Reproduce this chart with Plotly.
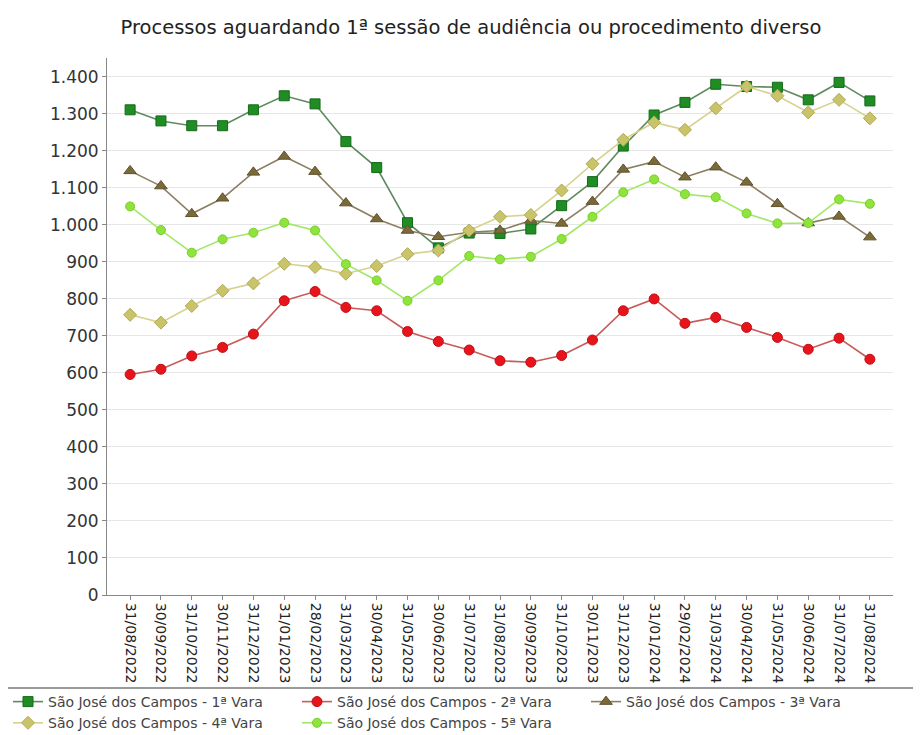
import plotly.graph_objects as go

categories = ["31/08/2022", "30/09/2022", "31/10/2022", "30/11/2022", "31/12/2022",
              "31/01/2023", "28/02/2023", "31/03/2023", "30/04/2023", "31/05/2023",
              "30/06/2023", "31/07/2023", "31/08/2023", "30/09/2023", "31/10/2023",
              "30/11/2023", "31/12/2023", "31/01/2024", "29/02/2024", "31/03/2024",
              "30/04/2024", "31/05/2024", "30/06/2024", "31/07/2024", "31/08/2024"]

vara1 = [1311, 1281, 1268, 1268, 1311, 1349, 1327, 1225, 1155, 1006, 938, 978, 977, 989,
         1052, 1117, 1213, 1297, 1331, 1380, 1374, 1372, 1338, 1385, 1335]
vara2 = [596, 610, 646, 669, 705, 795, 820, 777, 768, 712, 685, 662, 633, 629,
         647, 689, 768, 800, 734, 750, 723, 696, 664, 694, 637]
vara3 = [1146, 1105, 1030, 1072, 1142, 1185, 1144, 1059, 1016, 985, 968, 980, 985, 1012,
         1004, 1063, 1150, 1171, 1129, 1156, 1115, 1057, 1005, 1023, 967]
vara4 = [757, 736, 781, 822, 842, 895, 886, 868, 889, 921, 931, 985, 1022, 1027,
         1093, 1165, 1230, 1277, 1257, 1315, 1374, 1349, 1304, 1338, 1288]
vara5 = [1050, 986, 925, 961, 979, 1006, 985, 894, 850, 795, 850, 916, 907, 914,
         962, 1022, 1088, 1123, 1083, 1075, 1031, 1004, 1005, 1069, 1057]

series_names = ["São José dos Campos - 1ª Vara", "São José dos Campos - 2ª Vara",
                "São José dos Campos - 3ª Vara", "São José dos Campos - 4ª Vara",
                "São José dos Campos - 5ª Vara"]

y_tickvals = [0, 100, 200, 300, 400, 500, 600, 700, 800, 900, 1000, 1100, 1200, 1300, 1400]
y_ticktext = ["0", "100", "200", "300", "400", "500", "600", "700", "800", "900",
              "1.000", "1.100", "1.200", "1.300", "1.400"]

title_text = "Processos aguardando 1ª sessão de audiência ou procedimento diverso"

styles = [
    dict(symbol="square", size=10, color="#1f8c24", mline="#146a18", lcolor="#5f8a5f"),
    dict(symbol="circle", size=10, color="#e8141b", mline="#c01015", lcolor="#c85a5a"),
    dict(symbol="triangle-up", size=11, color="#7a6a3a", mline="#5f522c", lcolor="#8c7e60"),
    dict(symbol="diamond", size=10, color="#c9c46a", mline="#b0aa55", lcolor="#d6d28e"),
    dict(symbol="circle", size=9, color="#8fe43c", mline="#78cc2c", lcolor="#a2e866"),
]

W, H = 913, 727  # page body has an 8px margin
ML, MR, MT, MB = 99, 28, 50, 140

fig = go.Figure()
for name, vals, st in zip(series_names, [vara1, vara2, vara3, vara4, vara5], styles):
    fig.add_trace(go.Scatter(
        x=categories, y=vals, name=name, mode="lines+markers",
        line=dict(color=st["lcolor"], width=1.6),
        marker=dict(symbol=st["symbol"], size=st["size"], color=st["color"],
                    line=dict(color=st["mline"], width=1)),
    ))

plot_w = W - ML - MR
plot_h = H - MT - MB
line_y = (587 - 680) / plot_h

fig.update_layout(
    width=W, height=H,
    paper_bgcolor="white", plot_bgcolor="white",
    font=dict(family="DejaVu Sans", color="#333"),
    margin=dict(l=ML, r=MR, t=MT, b=MB, autoexpand=False),
    title=dict(text=title_text, x=463 / W, xanchor="center", xref="container",
               y=1 - 19 / H, yanchor="middle", yref="container",
               font=dict(size=19.5, color="#222", family="DejaVu Sans")),
    showlegend=True,
    legend=dict(orientation="h", xref="paper", yref="paper",
                x=-ML / plot_w, xanchor="left", y=(587 - 678) / plot_h, yanchor="top",
                font=dict(size=14, color="#444"), bgcolor="rgba(0,0,0,0)",
                itemwidth=30, tracegroupgap=0,
                entrywidth=244, entrywidthmode="pixels"),
    shapes=[dict(type="line", xref="paper", yref="paper",
                 x0=-ML / plot_w, x1=(W - ML) / plot_w,
                 y0=line_y, y1=line_y,
                 line=dict(color="#9a9a9a", width=2))],
)

fig.update_xaxes(
    type="category", range=[-0.75, 24.75], tickangle=90,
    tickfont=dict(size=14, color="#222"),
    showgrid=False, showline=True, linecolor="#888", linewidth=1,
    ticks="outside", ticklen=4, tickcolor="#888",
)
fig.update_yaxes(
    range=[0, 1451], tickvals=y_tickvals, ticktext=y_ticktext,
    tickfont=dict(size=17, color="#333"),
    showgrid=True, gridcolor="#e6e6e6", gridwidth=1,
    showline=True, linecolor="#888", linewidth=1,
    ticks="outside", ticklen=4, tickcolor="#888", zeroline=False,
)

fig.write_html("out.html")
